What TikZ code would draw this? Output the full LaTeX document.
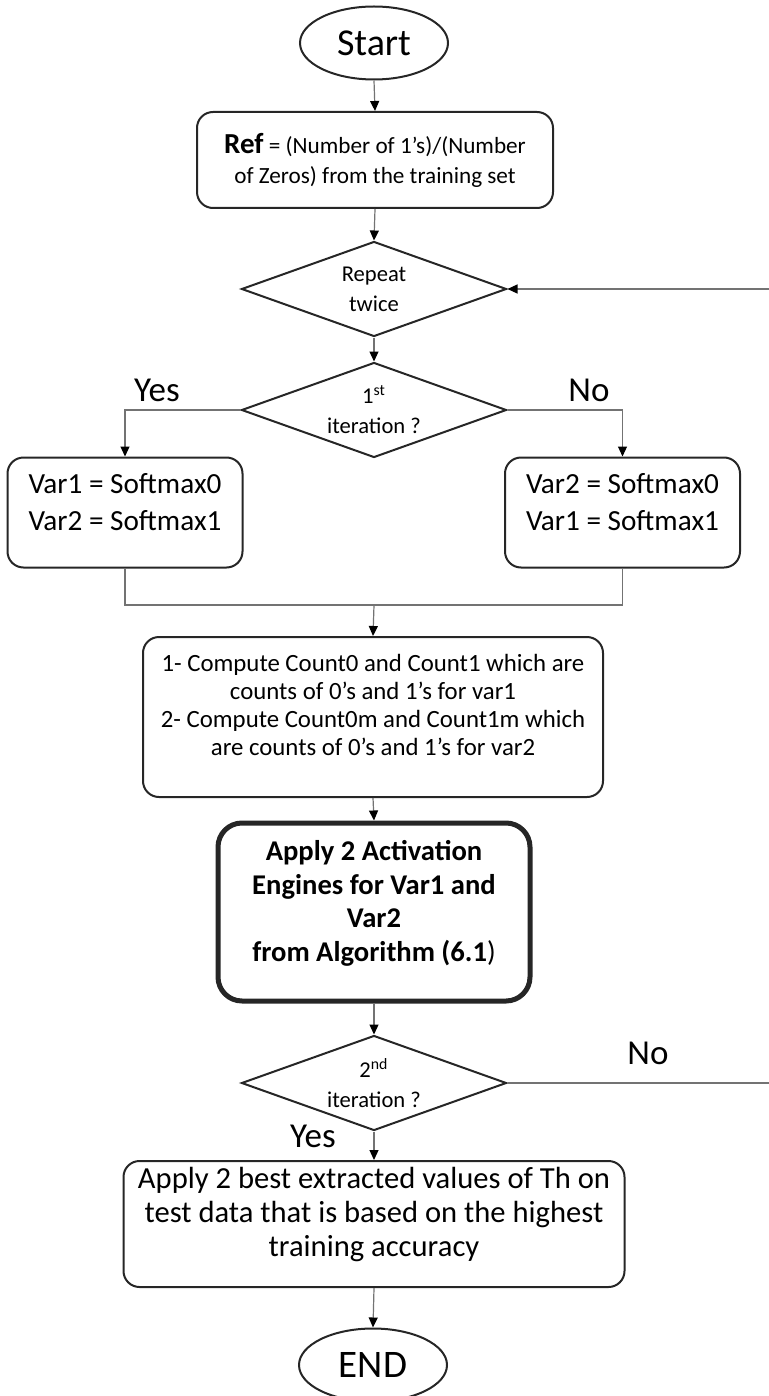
\documentclass[tikz,border=0pt]{standalone}
\usepackage{fontspec}
\setmainfont{Carlito}
\usetikzlibrary{arrows.meta, shapes.geometric}

\newcommand{\lift}[1]{\rule[-#1]{0pt}{#1}}

\begin{document}
\begin{tikzpicture}[x=0.5pt, y=-0.5pt,
  term/.style ={draw=black!85, ellipse, line width=1pt, minimum width=74pt,
                minimum height=36.5pt, inner sep=0pt, font=\fontsize{19}{22}\selectfont},
  proc/.style ={draw=black!85, rectangle, rounded corners=8pt, line width=1pt,
                align=center, inner sep=0pt},
  dec/.style  ={draw=black!85, diamond, aspect=2.8, line width=1pt, minimum width=132.5pt,
                minimum height=47.5pt, inner sep=0pt, align=center,
                font=\fontsize{11.3}{15}\selectfont},
  lbl/.style  ={font=\fontsize{17.5}{20}\selectfont},
  arr/.style  ={-{Triangle[length=5pt, width=4.5pt, color=black]}, draw=black!55, line width=0.6pt},
  lin/.style  ={draw=black!55, line width=0.6pt},
]
\useasboundingbox (0,0) rectangle (769,1396);

\node[term] (start) at (374,43) {Start};
\node[proc, minimum width=178pt, minimum height=48pt, font=\fontsize{11.6}{15}\selectfont]
  (ref) at (375,160)
  {{\fontsize{14.5}{15}\selectfont\bfseries Ref} = (Number of 1’s)/(Number\\of Zeros) from the training set};
\node[dec] (repeat) at (374,289) {Repeat\\twice};
\node[dec] (first)  at (374,410) {1\textsuperscript{st}\\iteration ?};

\node[proc, minimum width=117.5pt, minimum height=55pt, font=\fontsize{14.6}{18.5}\selectfont]
  (optA) at (125,512.5) {Var1 = Softmax0\\Var2 = Softmax1\lift{11pt}};
\node[proc, minimum width=117.5pt, minimum height=55pt, font=\fontsize{14.6}{18.5}\selectfont]
  (optB) at (622.5,512.5) {Var2 = Softmax0\\Var1 = Softmax1\lift{11pt}};
\coordinate (merge) at (374,605);

\node[proc, minimum width=230pt, minimum height=80pt, font=\fontsize{12.4}{14.1}\selectfont]
  (count) at (373,717)
  {1- Compute Count0 and Count1 which are\\counts of 0’s and 1’s for var1\\
   2- Compute Count0m and Count1m which\\are counts of 0’s and 1’s for var2\lift{12pt}};
\node[proc, line width=2.5pt, rounded corners=12pt, minimum width=156pt, minimum height=89pt,
      font=\fontsize{14.3}{16.9}\selectfont\bfseries]
  (engine) at (374,912)
  {Apply 2 Activation\\Engines for Var1 and\\Var2\\from Algorithm (6.1{\mdseries)}\lift{11pt}};
\node[dec] (second) at (374,1083) {2\textsuperscript{nd}\\iteration ?};
\coordinate (loop) at (800,1083);

\node[proc, minimum width=250.5pt, minimum height=63pt, font=\fontsize{15.3}{17}\selectfont]
  (final) at (374,1224)
  {Apply 2 best extracted values of Th on\\test data that is based on the highest\\training accuracy\lift{12pt}};
\node[term, font=\fontsize{19.5}{22}\selectfont] (stop) at (373,1365) {END};

\node[lbl] (yesA) at (157,390)  {Yes};
\node[lbl] (noA)  at (589,390)  {No};
\node[lbl] (noB)  at (648,1053) {No};
\node[lbl] (yesB) at (313,1136) {Yes};

% main line
\draw[arr] (start.south) -- (ref.north);
\draw[arr] (ref.south) -- (repeat.north);
\draw[arr] (repeat.south) -- (first.north);
\draw[arr] (first.west) -| (optA.north);
\draw[arr] (first.east) -| (optB.north);
\draw[lin] (optA.south) |- (merge) -| (optB.south);
\draw[arr] (merge) -- (count.north);
\draw[arr] (count.south) -- (engine.north);
\draw[arr] (engine.south) -- (second.north);
\draw[arr] (second.south) -- (final.north);
\draw[arr] (final.south) -- (stop.north);

% back to the loop
\draw[arr] (second.east) -- (loop) |- (repeat.east);
\end{tikzpicture}
\end{document}
